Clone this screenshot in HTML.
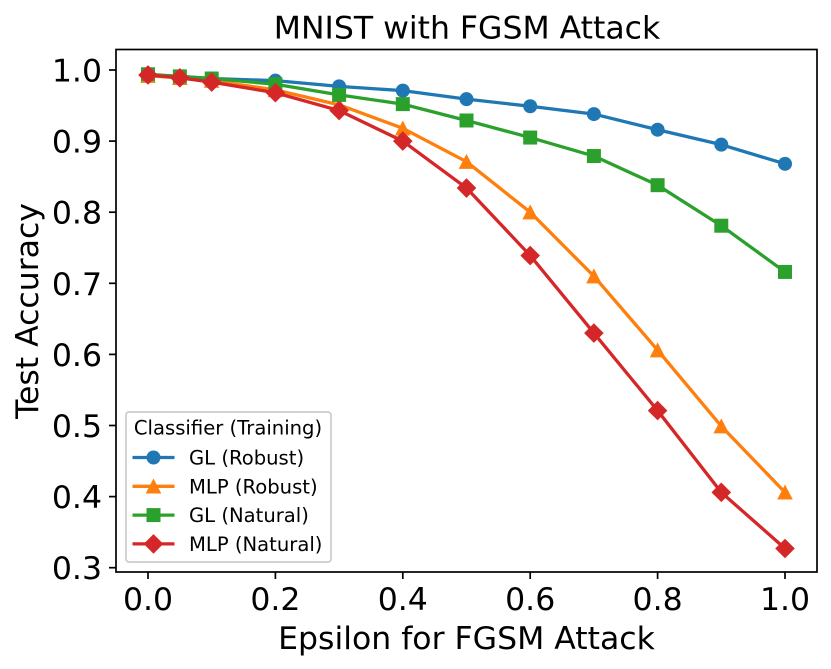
<!DOCTYPE html>
<html><head><meta charset="utf-8"><style>
html,body{margin:0;padding:0;background:#fff}
svg{display:block}
text{font-family:"DejaVu Sans","Liberation Sans",sans-serif;fill:#000}
</style></head><body>
<svg id="chart" width="831" height="669" viewBox="0 0 831 669" xmlns="http://www.w3.org/2000/svg"></svg>
<script>
const epsilons = [0, 0.05, 0.1, 0.2, 0.3, 0.4, 0.5, 0.6, 0.7, 0.8, 0.9, 1.0];
const glRobust = [0.993, 0.991, 0.988, 0.985, 0.977, 0.971, 0.959, 0.949, 0.938, 0.916, 0.895, 0.868];
const mlpRobust = [0.992, 0.989, 0.985, 0.972, 0.951, 0.918, 0.871, 0.800, 0.710, 0.606, 0.499, 0.406];
const glNatural = [0.994, 0.991, 0.988, 0.980, 0.965, 0.952, 0.929, 0.905, 0.879, 0.838, 0.781, 0.716];
const mlpNatural = [0.993, 0.989, 0.983, 0.968, 0.943, 0.900, 0.834, 0.739, 0.630, 0.521, 0.406, 0.327];
const xTicks = [0, 0.2, 0.4, 0.6, 0.8, 1.0];
const yTicks = [0.3, 0.4, 0.5, 0.6, 0.7, 0.8, 0.9, 1.0];
const seriesNames = ['GL (Robust)', 'MLP (Robust)', 'GL (Natural)', 'MLP (Natural)'];

const svg = document.getElementById('chart');
const NS = 'http://www.w3.org/2000/svg';
const xScale = v => 148 + v * 637;
const yScale = v => 70 + (1 - v) * 711;
function make(tag, attrs, text) {
  const el = document.createElementNS(NS, tag);
  for (const k in attrs) el.setAttribute(k, attrs[k]);
  if (text !== undefined) el.textContent = text;
  return el;
}
function marker(kind, cx, cy, color) {
  if (kind === 'circle') return make('circle', {cx: cx, cy: cy, r: 7, fill: color});
  if (kind === 'triangle') return make('polygon', {points: [cx, cy - 7.8, cx + 7.8, cy + 7.2, cx - 7.8, cy + 7.2].join(','), fill: color});
  if (kind === 'square') return make('rect', {x: cx - 7, y: cy - 7, width: 14, height: 14, fill: color});
  return make('polygon', {points: [cx, cy - 9.8, cx + 9.8, cy, cx, cy + 9.8, cx - 9.8, cy].join(','), fill: color});
}
const styles = [
  {values: glRobust, color: '#1f77b4', kind: 'circle'},
  {values: mlpRobust, color: '#ff7f0e', kind: 'triangle'},
  {values: glNatural, color: '#2ca02c', kind: 'square'},
  {values: mlpNatural, color: '#d62728', kind: 'diamond'}
];

styles.forEach((s, i) => {
  const g = make('g', {});
  
  
  const line = make('polyline', {
    points: s.values.map((v, j) => xScale(epsilons[j]) + ',' + yScale(v)).join(' '),
    fill: 'none', stroke: s.color, 'stroke-width': 3.3, 'stroke-linejoin': 'round'
  });
  
  
  g.appendChild(line);
  s.values.forEach((v, j) => {
    const m = marker(s.kind, xScale(epsilons[j]), yScale(v), s.color);
    
    
    g.appendChild(m);
  });
  svg.appendChild(g);
});

const frame = make('rect', {x: 116, y: 49.5, width: 701, height: 522.5, fill: 'none', stroke: '#000', 'stroke-width': 1.7});


svg.appendChild(frame);

xTicks.forEach(v => {
  const x = xScale(v);
  const t = make('line', {x1: x, x2: x, y1: 572, y2: 579, stroke: '#000', 'stroke-width': 1.7});
  
  
  svg.appendChild(t);
  const l = make('text', {x: x, y: 610, 'font-size': 31.5, 'text-anchor': 'middle'}, v.toFixed(1));
  
  
  svg.appendChild(l);
});
yTicks.forEach(v => {
  const y = yScale(v);
  const t = make('line', {x1: 109, x2: 116, y1: y, y2: y, stroke: '#000', 'stroke-width': 1.7});
  
  
  svg.appendChild(t);
  const l = make('text', {x: 102, y: y + 11.5, 'font-size': 31.5, 'text-anchor': 'end'}, v.toFixed(1));
  
  
  svg.appendChild(l);
});

const title = make('text', {x: 467, y: 38.5, 'font-size': 31.5, 'text-anchor': 'middle'}, 'MNIST with FGSM Attack');


svg.appendChild(title);
const xTitle = make('text', {x: 466.5, y: 649, 'font-size': 31.5, 'text-anchor': 'middle'}, 'Epsilon for FGSM Attack');


svg.appendChild(xTitle);
const yTitle = make('text', {x: 0, y: 0, 'font-size': 31.5, 'text-anchor': 'middle', transform: 'translate(38,311) rotate(-90)'}, 'Test Accuracy');


svg.appendChild(yTitle);

const legend = make('g', {});


const box = make('rect', {x: 126, y: 412, width: 205, height: 150, rx: 3, ry: 3, fill: '#fff', 'fill-opacity': 0.8, stroke: '#ccc', 'stroke-width': 1.7});


legend.appendChild(box);
const legendTitle = make('text', {x: 228, y: 434.5, 'font-size': 19.6, 'text-anchor': 'middle'}, 'Classifier (Training)');


legend.appendChild(legendTitle);
styles.forEach((s, i) => {
  const y = 457.5 + i * 28.8;
  const entry = make('g', {});
  
  
  entry.appendChild(make('line', {x1: 132.5, x2: 174.5, y1: y, y2: y, stroke: s.color, 'stroke-width': 3.3}));
  entry.appendChild(marker(s.kind, 153.5, y, s.color));
  entry.appendChild(make('text', {x: 189, y: y + 7, 'font-size': 19.6}, seriesNames[i]));
  legend.appendChild(entry);
});
svg.appendChild(legend);
</script>
</body></html>
